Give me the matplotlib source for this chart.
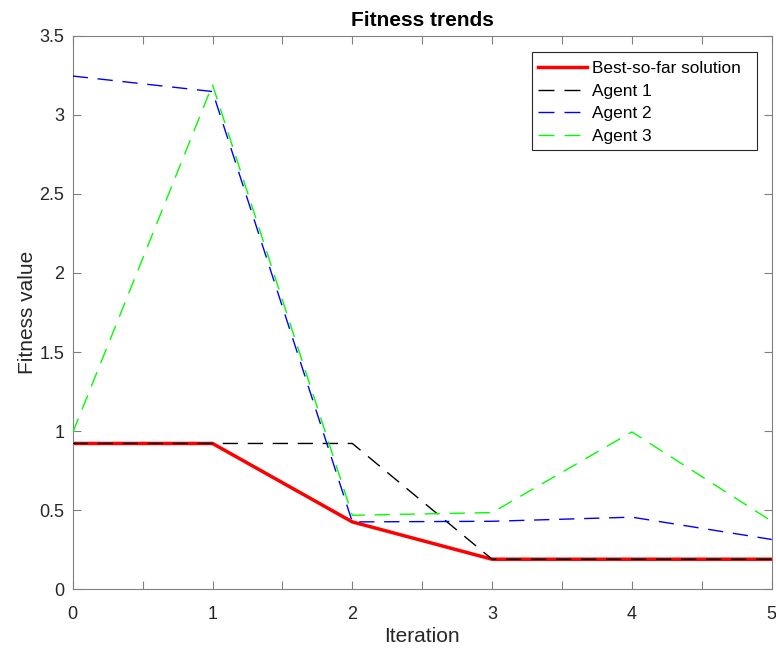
import matplotlib
matplotlib.use("Agg")
import matplotlib.pyplot as plt
from matplotlib.patches import Rectangle
from matplotlib.ticker import MultipleLocator

plt.rcParams['font.family'] = ['Liberation Sans', 'DejaVu Sans']

iterations = [0, 1, 2, 3, 4, 5]
best_so_far = [0.922, 0.922, 0.426, 0.19, 0.19, 0.19]
agent1 = [0.922, 0.922, 0.922, 0.19, 0.19, 0.19]
agent2 = [3.245, 3.147, 0.426, 0.43, 0.456, 0.315]
agent3 = [0.99, 3.19, 0.468, 0.485, 0.995, 0.43]

fig = plt.figure(figsize=(7.76, 6.48), dpi=100)
ax = fig.add_axes([0.0937, 0.0906, 0.9008, 0.8543])

dash = (0, (11, 7))
ax.plot(iterations, best_so_far, color='#ff0000', lw=2.5, label='Best-so-far solution', zorder=2)
ax.plot(iterations, agent1, color='black', lw=1.0, linestyle=dash, label='Agent 1', zorder=3)
ax.plot(iterations, agent2, color='#0000ff', lw=1.0, linestyle=dash, label='Agent 2', zorder=3)
ax.plot(iterations, agent3, color='#00ff00', lw=1.0, linestyle=dash, label='Agent 3', zorder=3)

ax.set_xlim(0, 5)
ax.set_ylim(0, 3.5)
ax.xaxis.set_major_locator(MultipleLocator(1))
ax.xaxis.set_minor_locator(MultipleLocator(0.5))
ax.set_yticks([0, 0.5, 1, 1.5, 2, 2.5, 3, 3.5])
ax.set_yticklabels(['0', '0.5', '1', '1.5', '2', '2.5', '3', '3.5'])

axis_gray = '#262626'
for side in ax.spines.values():
    side.set_color('#808080')
    side.set_linewidth(0.8)
ax.tick_params(which='both', direction='in', top=True, right=True,
               length=6, width=0.8, color='#808080', labelcolor=axis_gray,
               labelsize=13)
ax.tick_params(axis='x', pad=12)
ax.tick_params(axis='y', pad=6)

ax.set_xlabel('Iteration', fontsize=15, color=axis_gray, labelpad=3)
ax.set_ylabel('Fitness value', fontsize=15, color=axis_gray, labelpad=2)
ax.set_title('Fitness trends', fontsize=15, fontweight='bold', color='black', pad=7)

# legend entries without their own frame; a wider box is drawn behind them
leg = ax.legend(loc='upper left', bbox_to_anchor=(0.6535, 0.970), fontsize=12.4,
                frameon=False, handlelength=2.85, borderpad=0.5,
                labelspacing=0.44, handletextpad=0.25, borderaxespad=0.0)
leg.set_zorder(6)
for handle in leg.get_lines()[1:]:
    handle.set_linestyle((0, (11.5, 7.2)))
ax.add_patch(Rectangle((0.657, 0.7935), 0.3215, 0.1765, transform=ax.transAxes,
                       facecolor='white', edgecolor='#262626', linewidth=0.8,
                       zorder=5))

fig.savefig('out.png', dpi=100)
